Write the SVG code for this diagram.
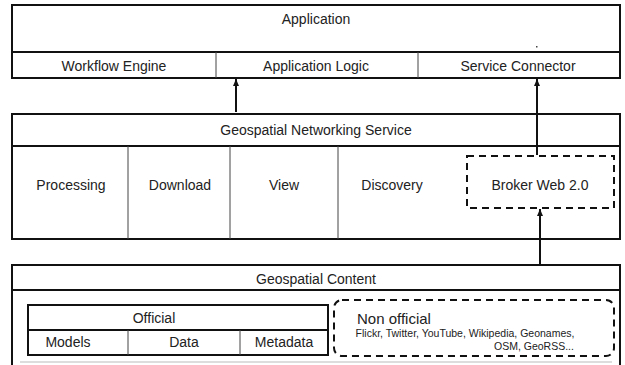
<svg xmlns="http://www.w3.org/2000/svg" width="625" height="365" viewBox="0 0 625 365">
<defs>
<style>
.box{fill:#fff;stroke:#111;stroke-width:2}
.div{stroke:#111;stroke-width:2}
.thin{stroke:#444;stroke-width:1}
.dash{fill:none;stroke:#111;stroke-width:2;stroke-dasharray:7,5}
.conn{stroke:#111;stroke-width:2;fill:none}
text{font-family:"Liberation Sans",Arial,sans-serif;font-size:14px;fill:#222;text-anchor:middle}
.small{font-size:10.5px}
</style>
<marker id="ah" markerWidth="7" markerHeight="6" refX="7" refY="3" orient="auto" markerUnits="userSpaceOnUse">
<path d="M0,0 L7,3 L0,6 Z" fill="#111"/>
</marker>
</defs>
<rect width="625" height="365" fill="#fff"/>
<g id="application">
<rect class="box" x="12" y="5" width="608" height="73"/>
<line class="div" x1="12" y1="52" x2="620" y2="52"/>
<line class="thin" x1="216" y1="52" x2="216" y2="78"/>
<line class="thin" x1="418" y1="52" x2="418" y2="78"/>
<text x="316" y="24">Application</text>
<text x="114" y="71">Workflow Engine</text>
<text x="316" y="71">Application Logic</text>
<text x="518" y="71">Service Connector</text>
<rect x="536" y="46" width="1.5" height="1.5" fill="#444"/>
</g>
<g id="gns">
<rect class="box" x="12" y="114" width="608" height="125"/>
<line class="div" x1="12" y1="146" x2="620" y2="146"/>
<line class="thin" x1="128" y1="146" x2="128" y2="239"/>
<line class="thin" x1="230" y1="146" x2="230" y2="239"/>
<line class="thin" x1="338" y1="146" x2="338" y2="239"/>
<text x="316" y="135">Geospatial Networking Service</text>
<text x="71" y="190">Processing</text>
<text x="180" y="190">Download</text>
<text x="284" y="190">View</text>
<text x="392" y="190">Discovery</text>
</g>
<g id="broker">
<rect class="dash" x="467" y="156" width="147" height="52"/>
<text x="540" y="190">Broker Web 2.0</text>
</g>
<g id="content">
<path class="box" d="M12,366 L12,265 L620,265 L620,366"/>
<line class="div" x1="12" y1="290" x2="620" y2="290"/>
<line x1="20" y1="362" x2="612" y2="362" stroke="#bbb" stroke-width="1"/>
<text x="316" y="284">Geospatial Content</text>
</g>
<g id="official">
<rect class="box" x="28" y="305" width="300" height="50"/>
<line class="div" x1="28" y1="330" x2="328" y2="330"/>
<line class="thin" x1="128" y1="330" x2="128" y2="355"/>
<line class="thin" x1="240" y1="330" x2="240" y2="355"/>
<text x="154" y="323">Official</text>
<text x="68" y="347">Models</text>
<text x="184" y="347">Data</text>
<text x="284" y="347">Metadata</text>
</g>
<g id="nonofficial">
<rect class="dash" x="334" y="300" width="280" height="56" rx="8"/>
<text x="357" y="324" style="text-anchor:start;font-size:15px">Non official</text>
<text class="small" x="465" y="337">Flickr, Twitter, YouTube, Wikipedia, Geonames,</text>
<text class="small" x="534" y="350">OSM, GeoRSS...</text>
</g>
<g id="connectors">
<line class="conn" x1="236" y1="112" x2="236" y2="79" marker-end="url(#ah)"/>
<line class="conn" x1="537" y1="155" x2="537" y2="79" marker-end="url(#ah)"/>
<line class="conn" x1="540" y1="264" x2="540" y2="209" marker-end="url(#ah)"/>
</g>
</svg>
